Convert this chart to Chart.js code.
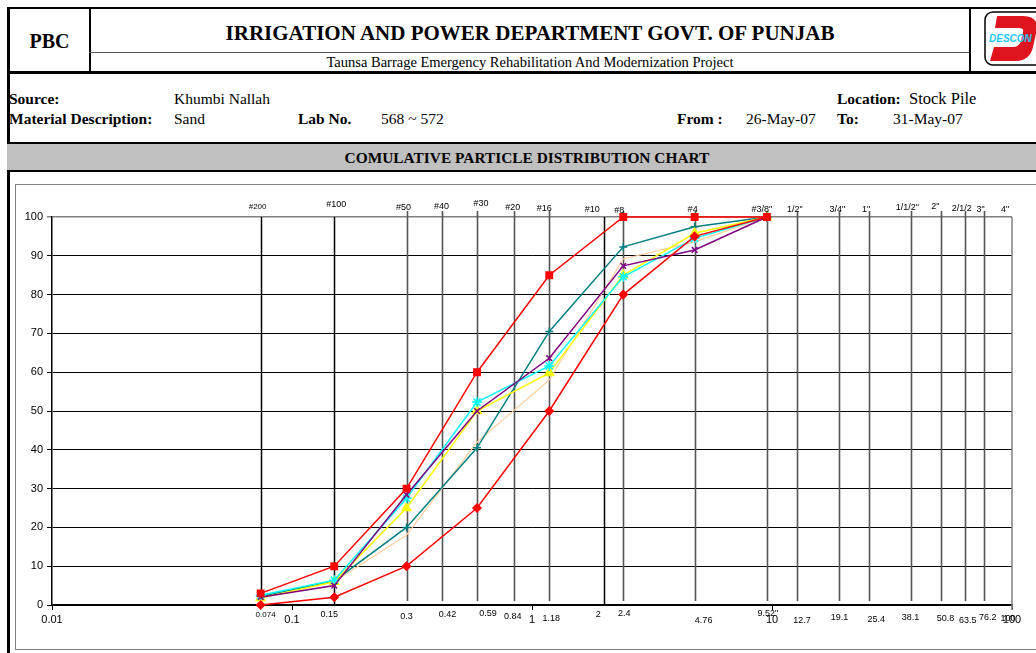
<!DOCTYPE html>
<html>
<head>
<meta charset="utf-8">
<title>Comulative Particle Distribution Chart</title>
<script src="https://cdn.jsdelivr.net/npm/chart.js@4"></script>
<style>
  html, body { margin: 0; padding: 0; background: #fff; }
  body { width: 1036px; height: 653px; position: relative; overflow: hidden;
         font-family: "Liberation Serif", "Times New Roman", serif; color: #000; }
  .abs { position: absolute; white-space: nowrap; line-height: 1.15; }
  .b { font-weight: bold; }
  .info { font-size: 15.5px; }
  .line { position: absolute; background: #000; }
  #chartBox { position: absolute; left: 15px; top: 184px; width: 1030px; height: 466px;
              border: 1px solid #808080; box-sizing: border-box; }
  #chartWrap { position: absolute; left: 0; top: 180px; width: 1036px; height: 473px; }
</style>
</head>
<body>

<!-- header frame -->
<div class="line" style="left:7px;top:7px;width:1040px;height:2px;"></div>
<div class="line" style="left:7px;top:7px;width:3px;height:646px;"></div>
<div class="line" style="left:89px;top:7px;width:2px;height:66px;"></div>
<div class="line" style="left:969px;top:7px;width:2px;height:66px;"></div>
<div class="line" style="left:89px;top:52px;width:880px;height:1px;background:#555;"></div>
<div class="line" style="left:7px;top:71px;width:1040px;height:3px;"></div>

<div class="abs b" style="left:10px;width:79px;top:30px;text-align:center;font-size:20px;">PBC</div>
<div class="abs b" style="left:91px;width:878px;top:21px;text-align:center;font-size:21px;">IRRIGATION AND POWER DEPARTMENT GOVT. OF PUNJAB</div>
<div class="abs" style="left:91px;width:878px;top:54px;text-align:center;font-size:14.5px;">Taunsa Barrage Emergency Rehabilitation And Modernization Project</div>

<!-- logo -->
<svg class="abs" style="left:983px;top:11px;" width="60" height="56">
  <rect x="2" y="1" width="60" height="53" rx="8" ry="8" fill="#fff" stroke="#000" stroke-width="1.5"/>
  <path d="M14 5 L40 5 Q55 5 54 18 L50 36 Q47 50 32 50 L7 50 L11 36 L30 36 Q36 36 38 30 L40 21 Q41 17 36 17 L12 17 Z" fill="#e0141e"/>
  <text x="6" y="31" font-family="Liberation Sans, Arial" font-size="10" font-weight="bold" font-style="italic" fill="#1ec8ff">DESCON</text>
</svg>

<!-- info rows -->
<div class="abs b info" style="left:9px;top:90px;">Source:</div>
<div class="abs info" style="left:174px;top:90px;">Khumbi Nallah</div>
<div class="abs b info" style="left:837px;top:90px;">Location:</div>
<div class="abs info" style="left:909px;top:90px;font-size:16.5px;">Stock Pile</div>
<div class="abs b info" style="left:9px;top:110px;">Material Description:</div>
<div class="abs info" style="left:174px;top:110px;">Sand</div>
<div class="abs b info" style="left:298px;top:110px;">Lab No.</div>
<div class="abs info" style="left:381px;top:110px;">568 ~ 572</div>
<div class="abs b info" style="left:677px;top:110px;">From :</div>
<div class="abs info" style="left:746px;top:110px;">26-May-07</div>
<div class="abs b info" style="left:837px;top:110px;">To:</div>
<div class="abs info" style="left:893px;top:110px;">31-May-07</div>

<!-- title band -->
<div class="abs" style="left:7px;top:142px;width:1040px;height:30px;background:#c0c0c0;border-top:2px solid #000;border-bottom:2px solid #000;box-sizing:border-box;"></div>
<div class="abs b" style="left:7px;width:1040px;top:149px;text-align:center;font-size:15.4px;">COMULATIVE PARTICLE DISTRIBUTION CHART</div>

<div id="chartBox"></div>
<div id="chartWrap"><canvas id="gradingChart" width="1036" height="473"></canvas></div>

<script>
// =========================
// Sieve data
// =========================
const sieveSizes = [0.074, 0.15, 0.3, 0.42, 0.59, 0.84, 1.18, 2, 2.4, 4.76, 9.52, 12.7, 19.1, 25.4, 38.1, 50.8, 63.5, 76.2, 100];
const sieveNames = ["#200", "#100", "#50", "#40", "#30", "#20", "#16", "#10", "#8", "#4", '#3/8"', '1/2"', '3/4"', '1"', '1/1/2"', '2"', "2/1/2", '3"', '4"'];
const sieveOpenings = ["0.074", "0.15", "0.3", "0.42", "0.59", "0.84", "1.18", "2", "2.4", "4.76", '9.52"', "12.7", "19.1", "25.4", "38.1", "50.8", "63.5", "76.2", "100"];
const xAxisTicks = [0.01, 0.1, 1, 10, 100];

// sieves used in the tests (mm)
const testSieves = [0.074, 0.15, 0.3, 0.59, 1.18, 2.4, 4.76, 9.52];

// % passing
const upperLimit = [3, 10, 30, 60, 85, 100, 100, 100];
const lowerLimit = [0, 2, 10, 25, 50, 80, 95, 100];
const lab568 = [2.2, 6.2, 20, 40.5, 70.5, 92.3, 97.5, 100];
const lab569 = [2, 5, 28.4, 50, 63.6, 87.4, 91.5, 100];
const lab570 = [2.5, 6.4, 27.5, 52.3, 61.6, 84.6, 94.5, 100];
const lab571 = [1.8, 6, 25, 50, 59.8, 85, 95.8, 100];
const lab572 = [2, 6, 18, 42, 58, 89.2, 93.6, 100];

// label nudges (styling only)
const topDx = [-3, 2, -3, 0, 4, -1, -5, -12, -4, -2, -5, -2, -2, -3, -4, -6, -3, -3, -7];
const topDy = [-10, -12, -9, -10, -13, -9, -8, -7, -6, -7, -7, -7, -7, -7, -9, -10, -8, -7, -7];
const botDx = [5, -5, 0, 6, 11, -1, 2, -6, 1, 9, 1, 5, 0, 7, -1, 4, 3, 4, -4];
const botDy = [10, 10, 12, 10, 9, 12, 14, 10, 9, 16, 9, 16, 13, 15, 13, 14, 16, 13, 14];
const blackSieves = [0.074, 0.15, 2];

const toPoints = (arr) => arr.map((v, i) => ({ x: testSieves[i], y: v }));

// =========================
// Sieve lines + labels plugin
// =========================
const sieveLinesPlugin = {
  id: "sieveLines",
  beforeDatasetsDraw(chart) {
    const { ctx, chartArea } = chart;
    const xs = chart.scales.x;
    ctx.save();
    sieveSizes.forEach((s) => {
      if (s >= 100) return;
      const x = Math.round(xs.getPixelForValue(s)) + 0.5;
      const black = blackSieves.includes(s);
      ctx.beginPath();
      ctx.strokeStyle = black ? "#000" : "#555";
      ctx.lineWidth = black ? 1.5 : 1.6;
      ctx.moveTo(x, black ? chartArea.top : chartArea.top - 6);
      ctx.lineTo(x, black ? chartArea.bottom : chartArea.bottom - 4);
      ctx.stroke();
    });
    // right border
    ctx.beginPath();
    ctx.strokeStyle = "#808080";
    ctx.lineWidth = 1.5;
    ctx.moveTo(chartArea.right, chartArea.top);
    ctx.lineTo(chartArea.right, chartArea.bottom + 5);
    ctx.stroke();
    ctx.restore();
  },
  afterDraw(chart) {
    const { ctx, chartArea } = chart;
    const xs = chart.scales.x;
    ctx.save();
    ctx.fillStyle = "#000";
    ctx.textAlign = "center";
    ctx.textBaseline = "middle";
    sieveSizes.forEach((s, i) => {
      const x = xs.getPixelForValue(s);
      ctx.font = (i === 0 ? "8px" : "9px") + " 'Liberation Sans', Arial, sans-serif";
      ctx.fillText(sieveNames[i], x + topDx[i], chartArea.top + topDy[i]);
      if (sieveOpenings[i]) {
        ctx.fillText(sieveOpenings[i], x + botDx[i], chartArea.bottom + botDy[i]);
      }
    });
    ctx.restore();
  },
};

// =========================
// Chart
// =========================
function initGradingChart() {
  const canvas = document.getElementById("gradingChart");
  const line = (data, color, style, radius, width) => ({
    data: toPoints(data),
    borderColor: color,
    backgroundColor: color,
    borderWidth: width,
    pointStyle: style,
    pointRadius: radius,
    pointBorderColor: color,
    pointBackgroundColor: color,
    pointBorderWidth: 1.5,
    tension: 0,
    clip: false,
  });

  new Chart(canvas, {
    type: "line",
    data: {
      datasets: [
        line(upperLimit, "#ff0000", "rect", 4.5, 1.5),
        line(lowerLimit, "#ff0000", "rectRot", 4, 1.5),
        line(lab569, "#800080", "crossRot", 4, 1.5),
        line(lab570, "#00ffff", "star", 5, 1.5),
        line(lab571, "#ffff00", "triangle", 5, 1.5),
        line(lab568, "#008080", "cross", 4, 1.5),
        line(lab572, "#ffcc99", false, 0, 1.2),
      ],
    },
    options: {
      responsive: false,
      animation: false,
      devicePixelRatio: 1,
      layout: { padding: { top: 37, right: 24, left: 0, bottom: 0 } },
      plugins: { legend: { display: false }, tooltip: { enabled: false }, title: { display: false } },
      scales: {
        x: {
          type: "logarithmic",
          min: 0.01,
          max: 100,
          afterBuildTicks: (s) => { s.ticks = xAxisTicks.map((v) => ({ value: v })); },
          afterFit: (s) => { s.height = 48; },
          ticks: {
            autoSkip: false,
            maxRotation: 0,
            padding: 3,
            color: "#000",
            font: { family: "'Liberation Sans', Arial, sans-serif", size: 11 },
            callback: (v) => String(v),
          },
          grid: { drawOnChartArea: false, tickLength: 5, color: "#000", lineWidth: 1 },
          border: { color: "#000", width: 1.5 },
        },
        y: {
          min: 0,
          max: 100,
          afterFit: (s) => { s.width = 52; },
          ticks: {
            stepSize: 10,
            padding: 4,
            color: "#000",
            font: { family: "'Liberation Sans', Arial, sans-serif", size: 11 },
          },
          grid: {
            tickLength: 5,
            color: (c) => (c.tick && c.tick.value === 100 ? "#808080" : "#000"),
            lineWidth: (c) => (c.tick && c.tick.value === 100 ? 1.5 : 1),
          },
          border: { color: "#000", width: 1.5 },
        },
      },
    },
    plugins: [sieveLinesPlugin],
  });
}

document.addEventListener("DOMContentLoaded", initGradingChart);
</script>
</body>
</html>
